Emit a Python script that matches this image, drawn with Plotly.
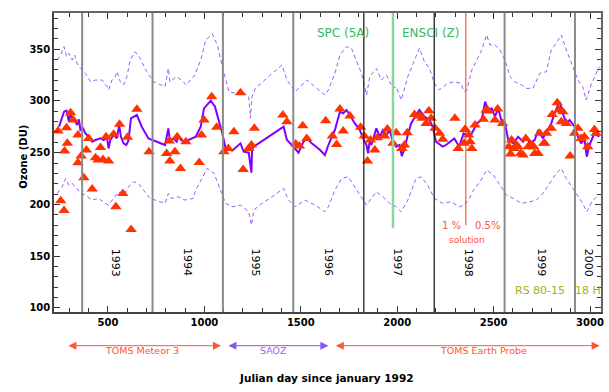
import plotly.graph_objects as go

# ---- data (day since Jan 1992, ozone DU) ----
line_days = [246, 272, 285, 297, 306, 314, 327, 340, 349, 357, 371, 383, 400, 418, 435, 461, 478, 495, 503, 512,
             529, 546, 558, 567, 581, 595, 607, 619, 650, 675, 710, 796, 813, 821, 838, 856, 864, 881, 899, 916,
             942, 955, 981, 998, 1033, 1055, 1076, 1093, 1110, 1144, 1187, 1204, 1230, 1239, 1244, 1247, 1256,
             1411, 1428, 1454, 1488, 1514, 1531, 1557, 1600, 1625, 1643, 1677, 1703, 1720, 1737, 1755, 1780, 1806,
             1823, 1841, 1849, 1858, 1866, 1892, 1909, 1926, 1944, 1961, 1978, 1995, 2012, 2024, 2038, 2055, 2072,
             2098, 2115, 2141, 2167, 2184, 2201, 2236, 2253, 2296, 2322, 2344, 2378, 2396, 2413, 2438, 2456, 2473,
             2490, 2507, 2524, 2542, 2559, 2576, 2602, 2627, 2653, 2670, 2688, 2713, 2731, 2756, 2782, 2799, 2816,
             2842, 2859, 2877, 2894, 2920, 2937, 2954, 2971, 2983, 2997, 3023, 3048]
line_o3 = [275.1, 289.6, 290.6, 280, 288, 283.2, 281.6, 276.7, 282.2, 271.9, 273.5, 268.7, 265.4, 260.6, 262.2, 263.8,
           262.2, 264.8, 254.1, 262.2, 267, 263.8, 276.7, 265.4, 259, 257.4, 262.2, 283.2, 286.4, 275.1, 263.8,
           257.4, 273.5, 262.2, 263.8, 260.6, 265.4, 262.2, 260.6, 262.2, 264.8, 265.4, 275.1, 292.8, 300.3, 294.4,
           280, 268.7, 254.1, 251.9, 259, 250.9, 250, 236.4, 230.6, 252.5, 255.8, 275.1, 262.2, 257.4, 250, 260.6,
           263.8, 259, 252.5, 247.7, 257.4, 271.9, 289.6, 288, 291.2, 286.4, 278.3, 271.9, 263.8, 257.4, 249.3,
           262.2, 257.4, 273.5, 265.4, 271.9, 267, 271.9, 260.6, 255.8, 257.4, 246.7, 254.1, 267, 278.3, 286.4,
           291.2, 284.8, 281.6, 275.1, 260.6, 255.8, 257.4, 263.8, 255.8, 268.7, 265.4, 271.9, 278.3, 281.6, 299.3,
           291.2, 292.8, 284.8, 292.8, 280, 278.3, 262.2, 259, 265.4, 260.6, 265.4, 259, 262.2, 271.9, 263.8, 271.9,
           278.3, 288, 299.3, 288, 278.3, 281.6, 275.1, 265.4, 259, 263.8, 246.1, 257.4, 268.7, 265.4]

upper_days = [237, 254, 272, 285, 297, 314, 327, 340, 357, 383, 409, 435, 469, 495, 503, 521, 538, 546, 564, 581,
              598, 615, 641, 667, 701, 735, 796, 813, 821, 856, 881, 907, 942, 947, 981, 1007, 1041, 1067, 1093,
              1127, 1162, 1187, 1230, 1239, 1247, 1265, 1333, 1402, 1428, 1471, 1531, 1574, 1625, 1643, 1677, 1703,
              1737, 1763, 1789, 1815, 1841, 1858, 1892, 1918, 1944, 1978, 1995, 2021, 2055, 2090, 2115, 2141, 2167,
              2193, 2219, 2261, 2296, 2330, 2347, 2361, 2387, 2413, 2438, 2464, 2481, 2507, 2533, 2559, 2585, 2610,
              2645, 2670, 2705, 2739, 2774, 2799, 2825, 2851, 2877, 2911, 2937, 2962, 2980, 3005, 3031, 3048]
upper_o3 = [339.6, 344.4, 352.5, 342.8, 346, 339.6, 344.4, 336.4, 331.5, 326.7, 318.6, 320.2, 320.2, 313.8, 310.6,
            320.2, 323.5, 328.3, 318.6, 315.4, 323.5, 339.6, 347.6, 341.2, 328.3, 318.6, 313.8, 331.5, 318.6, 323.5,
            320.2, 315.4, 323.5, 323.5, 339.6, 358.9, 364.7, 354.1, 333.1, 309, 307.3, 310.6, 304.1, 283.2, 304.1,
            312.2, 323.5, 334.7, 320.2, 309, 320.2, 313.8, 305.7, 310.6, 326.7, 344.4, 352.5, 350.9, 339.6, 326.7,
            305.7, 323.5, 331.5, 320.2, 325.1, 312.2, 313.8, 300.9, 323.5, 339.6, 350.9, 338, 331.5, 317, 310.6, 317,
            318.6, 317, 309, 310.6, 329.9, 339.6, 349.3, 363.8, 354.1, 354.1, 349.3, 339.6, 323.5, 318.6, 315.4,
            312.2, 312.2, 326.7, 328.3, 349.3, 355.7, 363.8, 349.3, 333.1, 320.2, 313.8, 300.9, 315.4, 326.7, 333.1]

lower_days = [237, 263, 280, 297, 314, 332, 357, 383, 418, 452, 486, 503, 529, 555, 581, 607, 632, 658, 684, 718,
              796, 813, 830, 864, 899, 942, 955, 990, 1015, 1050, 1076, 1110, 1144, 1187, 1230, 1244, 1256, 1299,
              1351, 1411, 1436, 1471, 1522, 1574, 1625, 1643, 1677, 1712, 1746, 1780, 1815, 1841, 1866, 1892, 1926,
              1961, 1995, 2021, 2055, 2098, 2124, 2158, 2193, 2236, 2279, 2322, 2347, 2370, 2396, 2430, 2464, 2499,
              2533, 2567, 2602, 2645, 2688, 2722, 2756, 2791, 2825, 2851, 2877, 2911, 2937, 2962, 2983, 3014, 3048]
lower_o3 = [210.6, 217.1, 225.1, 218.7, 220.3, 217.1, 210.6, 209, 204.2, 205.8, 201, 199.3, 205.8, 212.2, 209, 217.1,
            221.9, 220.3, 213.9, 205.8, 201, 210.6, 205.8, 207.4, 204.2, 205.8, 213.9, 226.7, 234.8, 230, 217.1, 201,
            197.7, 199.3, 192.9, 180, 194.5, 201, 207.4, 215.5, 204.2, 197.7, 204.2, 199.3, 192.9, 197.7, 213.9,
            225.1, 226.7, 217.1, 207.4, 199.3, 205.8, 212.2, 207.4, 201, 197.7, 192.9, 204.2, 225.1, 226.7, 218.7,
            205.8, 201, 202.6, 197.7, 199.3, 204.2, 213.9, 221.9, 233.2, 228.4, 218.7, 209, 205.8, 201, 202.6, 204.2,
            210.6, 220.3, 230, 234.8, 225.1, 215.5, 207.4, 201, 192.9, 204.2, 209]

sonde_days = [241, 255, 272, 275, 289, 285, 306, 320, 344, 361, 344, 375, 388, 400, 418, 435, 448, 461, 474, 490,
              503, 529, 541, 560, 577, 601, 620, 650, 713, 804, 821, 818, 847, 859, 876, 904,
              973, 985, 998, 1038, 1064, 1101, 1124, 1153, 1187, 1201, 1230, 1244, 1259, 1407, 1428, 1474, 1493,
              1510, 1531, 1629,
              1664, 1686, 1703, 1720, 1755, 1810, 1829, 1846, 1861, 1884, 1897, 1935, 1949, 1978, 1995, 2024, 2038,
              2052, 2090, 2115, 2129, 2150, 2164, 2176, 2196, 2219, 2236, 2299, 2316, 2347, 2351,
              2353, 2370, 2378, 2387, 2404, 2447, 2461, 2473, 2507, 2521, 2547, 2579, 2588, 2593, 2605, 2619, 2626,
              2640, 2653, 2667, 2679, 2696, 2708, 2713, 2731, 2739, 2760, 2765, 2774, 2799, 2804, 2830, 2839, 2859,
              2851, 2877, 2897, 2920, 2937, 2954, 2971, 2988, 3023, 3031]
sonde_o3 = [270.9, 203.5, 194.2, 251.6, 259, 274.1, 288.6, 281.6, 267, 246.7, 240.3, 225.8, 252.5, 263.8, 214.8,
            245.1, 242.9, 255.1, 243.5, 265.4, 241.9, 267.7, 197.7, 277.4, 210.6, 264.8, 175.8, 291.9, 251, 249.3,
            241.9, 261.2, 250.9, 265.4, 234.8, 260.6,
            240.6, 267, 281.6, 304.1, 274.5, 250.9, 254.1, 270.3, 308, 233.8, 254.1, 257.4, 273.5, 286.4, 280, 258.3,
            256.4, 276.1, 263.8, 280.9,
            266.1, 258, 292.2, 270.9, 285.4, 274.5, 266.1, 241.9, 262.2, 252.5, 264.5, 266.1, 272.8, 259, 269.3,
            254.1, 257.4, 269.3, 287, 285.4, 283.2, 278.3, 290.6, 283.2, 273.5, 268.7, 262.9, 283.2, 254.1, 259,
            272.5,
            272.5, 267, 260.6, 254.1, 276.7, 282.2, 291.2, 290.3, 281.6, 292.2, 278.3, 255.8, 248.7, 262.2, 254.1,
            257.4, 255.7, 249.3, 247.7, 263.8, 255.8, 257.4, 255.7, 249.3, 249.3, 268.7, 259, 259, 268.7, 273.5, 287,
            298.3, 291.2, 289.6, 280, 278.3, 246.7, 268.7, 273.5, 263.8, 265.4, 255.8, 272.5, 268.7]

year_bounds = [366, 731, 1096, 1461, 1827, 2192, 2557, 2922]
year_bound_dark = [False, False, False, False, True, True, False, False]
year_labels = ["1993", "1994", "1995", "1996", "1997", "1998", "1999", "2000"]
year_label_days = [540, 911, 1267, 1643, 2004, 2370, 2751, 2993]
year_label_o3 = 144

sonde_change_day = 1978   # SPC -> ENSCI
solution_change_day = 2356  # 1% -> 0.5%

x_range = [220, 3057]
y_range = [96, 385]

fig = go.Figure()
fig.add_trace(go.Scatter(x=upper_days, y=upper_o3, mode="lines",
                         line=dict(color="#9a5cff", width=1, dash="4px,3px"), hoverinfo="skip"))
fig.add_trace(go.Scatter(x=lower_days, y=lower_o3, mode="lines",
                         line=dict(color="#9a5cff", width=1, dash="4px,3px"), hoverinfo="skip"))
fig.add_trace(go.Scatter(x=line_days, y=line_o3, mode="lines",
                         line=dict(color="#7f00ff", width=2)))
fig.add_trace(go.Scatter(x=sonde_days, y=sonde_o3, mode="markers",
                         marker=dict(symbol="triangle-up", size=10, color="#ff3300", line=dict(width=0))))
# mirror axes carrier
fig.add_trace(go.Scatter(x=[x_range[0]], y=[y_range[0]], xaxis="x2", yaxis="y2", mode="markers",
                         marker=dict(opacity=0), hoverinfo="skip"))

shapes = []
for d, dark in zip(year_bounds, year_bound_dark):
    shapes.append(dict(type="line", xref="x", yref="paper", x0=d, x1=d, y0=0, y1=1,
                       line=dict(color="#111111" if dark else "#8a8a8a", width=1.2 if dark else 2)))
shapes.append(dict(type="line", xref="x", yref="y", x0=sonde_change_day, x1=sonde_change_day,
                   y0=177, y1=y_range[1], line=dict(color="#8fd4a0", width=2.5)))
shapes.append(dict(type="line", xref="x", yref="y", x0=solution_change_day, x1=solution_change_day,
                   y0=180, y1=y_range[1], line=dict(color="#ff3300", width=1)))

ann = []
for lab, d in zip(year_labels, year_label_days):
    ann.append(dict(x=d, y=year_label_o3, xref="x", yref="y", text=lab, showarrow=False, textangle=90,
                    font=dict(family="DejaVu Sans", size=11, color="#000000")))

def txt(x, y, s, color, size, xref="x", yref="y", weight="normal", angle=0):
    ann.append(dict(x=x, y=y, xref=xref, yref=yref, text=s, showarrow=False, textangle=angle,
                    font=dict(family="DejaVu Sans", size=size, color=color, weight=weight)))

txt(1721, 366, "SPC (5A)", "#33b86a", 12)
txt(2177, 366, "ENSCI (Z)", "#33b86a", 12)
txt(2282, 180, "1 %", "#ff5533", 10)
txt(2468, 180, "0.5%", "#ff5533", 10)
txt(2360, 165.5, "solution", "#ff5533", 9)
txt(2740, 117, "RS 80-15", "#a8b020", 11)
txt(2988, 117, "18 H", "#a8b020", 11)

# instrument period arrows below axis
arrow_y = -0.1127
periods = [(287, 1086, "#ff5533"), (1117, 1643, "#8855ee"), (1674, 3050, "#ff5533")]
for a, b, c in periods:
    ann.append(dict(x=b, y=arrow_y, xref="x", yref="paper", ax=a, ay=0, axref="x", ayref="pixel",
                    text="", showarrow=True, arrowhead=2, arrowside="end+start", arrowsize=1.6,
                    arrowwidth=1, arrowcolor=c))
txt(674, -0.155, "TOMS Meteor 3", "#ff5533", 9.5, yref="paper")
txt(1359, -0.155, "SAOZ", "#9966ee", 9.5, yref="paper")
txt(2447, -0.155, "TOMS Earth Probe", "#ff5533", 9.5, yref="paper")

txt(0.498, -0.2475, "Julian day since january 1992", "#000000", 10.5, xref="paper", yref="paper", weight="bold")
txt(-0.071, 0.518, "Ozone (DU)", "#000000", 10, xref="paper", yref="paper", weight="bold", angle=-90)

tickfont = dict(family="DejaVu Sans", size=10, color="#000000", weight="bold")
fig.update_layout(
    width=609, height=392, margin=dict(l=54, r=5, t=13, b=80),
    paper_bgcolor="white", plot_bgcolor="white", showlegend=False,
    shapes=shapes, annotations=ann,
    xaxis=dict(range=x_range, dtick=500, tick0=0, ticks="inside", ticklen=6, tickcolor="#333",
               showgrid=False, zeroline=False, showline=True, linecolor="#444", linewidth=1.5,
               tickfont=tickfont, minor=dict(dtick=100, ticks="inside", ticklen=4, tickcolor="#333")),
    yaxis=dict(range=y_range, dtick=50, tick0=0, ticks="inside", ticklen=6, tickcolor="#333",
               showgrid=False, zeroline=False, showline=True, linecolor="#444", linewidth=1.5,
               tickfont=tickfont, minor=dict(dtick=10, ticks="inside", ticklen=4, tickcolor="#333")),
    xaxis2=dict(range=x_range, overlaying="x", side="top", dtick=500, tick0=0, ticks="inside", ticklen=6,
                tickcolor="#333", showticklabels=False, showgrid=False, zeroline=False, showline=True,
                linecolor="#666", linewidth=1.5, minor=dict(dtick=100, ticks="inside", ticklen=4)),
    yaxis2=dict(range=y_range, overlaying="y", side="right", dtick=50, tick0=0, ticks="inside", ticklen=6,
                tickcolor="#333", showticklabels=False, showgrid=False, zeroline=False, showline=True,
                linecolor="#666", linewidth=1.5, minor=dict(dtick=10, ticks="inside", ticklen=4)),
)
fig.write_html("out.html")
